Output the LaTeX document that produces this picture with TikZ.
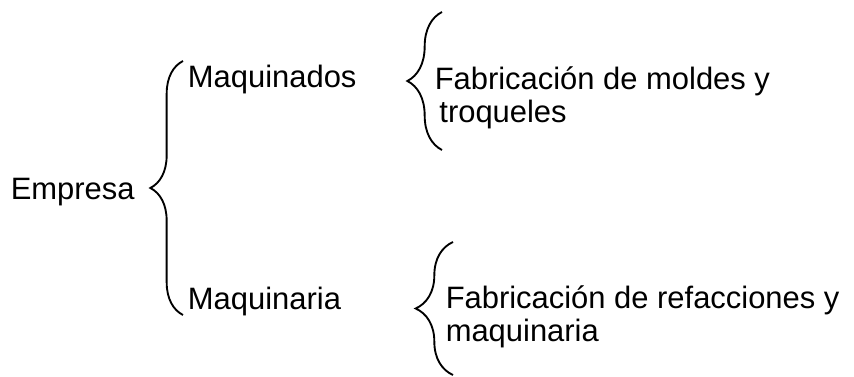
\documentclass[tikz,border=0pt]{standalone}
\usepackage{fontspec}
\setmainfont{Liberation Sans}
\usetikzlibrary{decorations.pathreplacing}

\begin{document}
\begin{tikzpicture}[x=0.75pt,y=-0.75pt,
    texto/.style={anchor=base west,inner sep=0pt,align=left,
      font=\fontsize{23.2}{25.3}\selectfont},
    llave/.style={decorate,decoration={brace,amplitude=#1},line width=1.4pt}]
    \useasboundingbox (0,0) rectangle (854,377);
    \node[texto] (empresa) at (10.5,200) {Empresa};
    \node[texto] (maqdos)  at (187.7,88) {Maquinados};
    \node[texto] (maqria)  at (187.7,310) {Maquinaria};
    % base = ultima linea
    \node[texto] (moldes)  at (434.5,123) {Fabricación de moldes y\\\hspace{3.5pt}troqueles};
    \node[texto] (refac)   at (445.5,342) {Fabricación de refacciones y\\maquinaria};
    % extremos de las llaves
    \coordinate (l1s) at (183,315);
    \coordinate (l1n) at (183,61);
    \coordinate (l2s) at (442,150);
    \coordinate (l2n) at (442,12);
    \coordinate (l3s) at (453,375);
    \coordinate (l3n) at (453,242);
    \draw[llave=24.5pt] (l1s) -- (l1n);
    \draw[llave=26pt] (l2s) -- (l2n);
    \draw[llave=28pt] (l3s) -- (l3n);
  \end{tikzpicture}
\end{document}
